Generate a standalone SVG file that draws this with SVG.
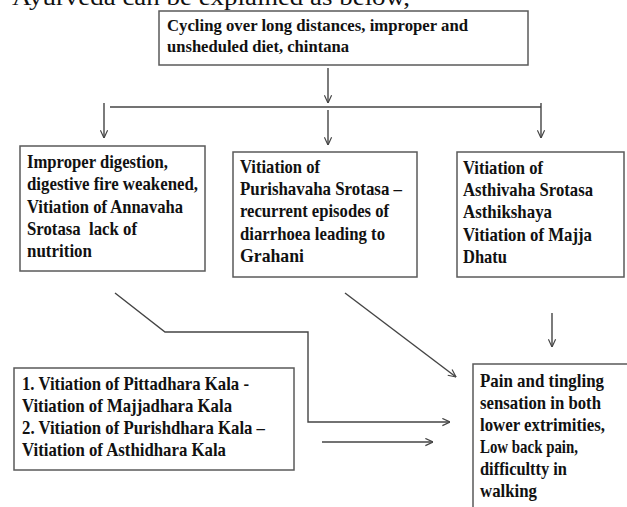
<svg xmlns="http://www.w3.org/2000/svg" width="627" height="507" viewBox="0 0 627 507">
<style>
.box{fill:#fff;stroke:#5a5a5a;stroke-width:1.5}
.t{font-family:"Liberation Serif","Times New Roman",serif;font-weight:bold;font-size:19.5px;fill:#111}
.tt{font-family:"Liberation Serif","Times New Roman",serif;font-weight:bold;font-size:17.5px;fill:#111}
.h{font-family:"Liberation Serif","Times New Roman",serif;font-size:24px;fill:#111}
.c{fill:none;stroke:#444;stroke-width:1.4}
</style>
<defs>
<marker id="arr" viewBox="0 0 10 10" refX="9.5" refY="5" markerWidth="9" markerHeight="9" markerUnits="userSpaceOnUse" orient="auto">
<path d="M1,1 L9.5,5 L1,9" fill="none" stroke="#444" stroke-width="1.3"/>
</marker>
</defs>
<text class="h" x="12" y="5" textLength="398" lengthAdjust="spacingAndGlyphs">Ayurveda can be explained as below,</text>

<g id="connectors">
<path class="c" d="M328,68 V103" marker-end="url(#arr)"/>
<path class="c" d="M110,107 H541"/>
<path class="c" d="M104,103 V138" marker-end="url(#arr)"/>
<path class="c" d="M328,110 V145" marker-end="url(#arr)"/>
<path class="c" d="M541,103 V138" marker-end="url(#arr)"/>
<path class="c" d="M115,293 L165,332 H308 V422 H450" marker-end="url(#arr)"/>
<path class="c" d="M345,293 L456,377" marker-end="url(#arr)"/>
<path class="c" d="M552,313 V347" marker-end="url(#arr)"/>
<path class="c" d="M322,442 H433" marker-end="url(#arr)"/>
</g>

<g id="top">
<rect class="box" x="159" y="11" width="369" height="54"/>
<text class="tt" x="167" y="31" textLength="301" lengthAdjust="spacingAndGlyphs">Cycling over long distances, improper and</text>
<text class="tt" x="167" y="52" textLength="182" lengthAdjust="spacingAndGlyphs">unsheduled diet, chintana</text>
</g>

<g id="annavaha">
<rect class="box" x="20" y="146" width="185" height="125"/>
<text class="t" x="27" y="168" textLength="141" lengthAdjust="spacingAndGlyphs">Improper digestion,</text>
<text class="t" x="27" y="190" textLength="171" lengthAdjust="spacingAndGlyphs">digestive fire weakened,</text>
<text class="t" x="27" y="213" textLength="156" lengthAdjust="spacingAndGlyphs">Vitiation of Annavaha</text>
<text class="t" x="27" y="235" textLength="110" lengthAdjust="spacingAndGlyphs" xml:space="preserve">Srotasa  lack of</text>
<text class="t" x="27" y="257" textLength="65" lengthAdjust="spacingAndGlyphs">nutrition</text>
</g>

<g id="purishavaha">
<rect class="box" x="233" y="152" width="184" height="125"/>
<text class="t" x="240" y="173" textLength="80" lengthAdjust="spacingAndGlyphs">Vitiation of</text>
<text class="t" x="240" y="195" textLength="162" lengthAdjust="spacingAndGlyphs">Purishavaha Srotasa –</text>
<text class="t" x="240" y="217" textLength="149" lengthAdjust="spacingAndGlyphs">recurrent episodes of</text>
<text class="t" x="240" y="240" textLength="145" lengthAdjust="spacingAndGlyphs">diarrhoea leading to</text>
<text class="t" x="240" y="262" textLength="64" lengthAdjust="spacingAndGlyphs">Grahani</text>
</g>

<g id="asthivaha">
<rect class="box" x="457" y="152" width="167" height="125"/>
<text class="t" x="463" y="174" textLength="80" lengthAdjust="spacingAndGlyphs">Vitiation of</text>
<text class="t" x="463" y="196" textLength="130" lengthAdjust="spacingAndGlyphs">Asthivaha Srotasa</text>
<text class="t" x="463" y="218" textLength="89" lengthAdjust="spacingAndGlyphs">Asthikshaya</text>
<text class="t" x="463" y="241" textLength="129" lengthAdjust="spacingAndGlyphs">Vitiation of Majja</text>
<text class="t" x="463" y="263" textLength="44" lengthAdjust="spacingAndGlyphs">Dhatu</text>
</g>

<g id="kala">
<rect class="box" x="14" y="368" width="280" height="102"/>
<text class="t" x="22" y="390" textLength="227" lengthAdjust="spacingAndGlyphs">1. Vitiation of Pittadhara Kala -</text>
<text class="t" x="22" y="412" textLength="210" lengthAdjust="spacingAndGlyphs">Vitiation of Majjadhara Kala</text>
<text class="t" x="22" y="434" textLength="243" lengthAdjust="spacingAndGlyphs">2. Vitiation of Purishdhara Kala –</text>
<text class="t" x="22" y="456" textLength="204" lengthAdjust="spacingAndGlyphs">Vitiation of Asthidhara Kala</text>
</g>

<g id="symptoms">
<path class="box" d="M473,510 V364 H630"/>
<text class="t" x="480" y="387" textLength="124" lengthAdjust="spacingAndGlyphs">Pain and tingling</text>
<text class="t" x="480" y="409" textLength="121" lengthAdjust="spacingAndGlyphs">sensation in both</text>
<text class="t" x="480" y="431" textLength="125" lengthAdjust="spacingAndGlyphs">lower extrimities,</text>
<text class="t" x="480" y="453" textLength="98" lengthAdjust="spacingAndGlyphs">Low back pain,</text>
<text class="t" x="480" y="475" textLength="87" lengthAdjust="spacingAndGlyphs">difficultty in</text>
<text class="t" x="480" y="497" textLength="57" lengthAdjust="spacingAndGlyphs">walking</text>
</g>
</svg>
